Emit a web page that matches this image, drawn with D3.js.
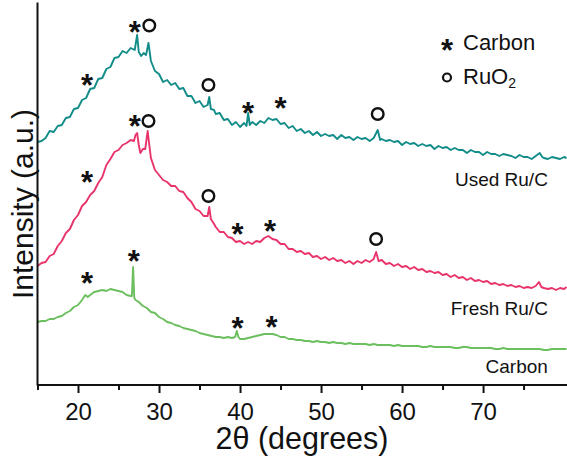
<!DOCTYPE html>
<html><head><meta charset="utf-8">
<script src="https://cdn.jsdelivr.net/npm/d3@7"></script>
<style>body{margin:0;background:#fff} svg{display:block;font-family:"Liberation Sans", Arial, sans-serif}</style>
</head><body><svg id="c" width="567" height="460"></svg>
<script>
// ---- data (2θ in degrees, intensity in arbitrary units) ----
const majorTicks = [20, 30, 40, 50, 60, 70];
const minorTicks = [15, 25, 35, 45, 55, 65, 75];
const seriesNames = ["Used Ru/C", "Fresh Ru/C", "Carbon"];
const seriesColors = ["#128c88", "#e8346a", "#6cbf5e"];

const usedRuC = [[15.0,243],[15.5,244],[16.0,247],[16.5,254],[17.0,253],[17.5,259],[18.0,260],[18.5,267],[19.0,268],[19.5,276],[20.0,277],[20.5,285],[21.0,287],[21.5,296],[22.0,297],[22.5,306],[23.0,307],[23.5,316],[24.0,318],[24.5,327],[25.0,328],[25.5,334],[26.0,332],[26.5,337],[27.0,335],[27.3,350],[27.5,333],[27.8,329],[28.1,332],[28.4,330],[28.7,342],[29.0,324],[29.5,314],[30.0,311],[30.5,303],[31.0,305],[31.5,300],[32.0,302],[32.5,296],[33.0,297],[33.5,289],[34.0,289],[34.5,282],[35.0,284],[35.5,278],[36.0,280],[36.2,288],[36.4,276],[36.8,275],[37.0,271],[37.5,272],[38.0,265],[38.5,266],[39.0,260],[39.5,263],[40.0,258],[40.5,262],[40.8,259],[41.0,272],[41.2,260],[41.5,263],[42.0,260],[42.5,264],[43.0,262],[43.5,267],[44.0,265],[44.5,266],[45.0,261],[45.5,262],[46.0,257],[46.5,259],[47.0,254],[47.5,256],[48.0,252],[48.5,254],[49.0,250],[49.5,253],[50.0,249],[50.5,251],[51.0,249],[51.5,250],[52.0,246],[52.5,250],[53.0,247],[53.5,248],[54.0,245],[54.5,248],[55.0,246],[55.5,247],[56.0,244],[56.5,247],[57.0,255],[57.3,245],[57.5,246],[58.0,244],[58.5,245],[59.0,243],[59.5,244],[60.0,240],[60.5,243],[61.0,241],[61.5,242],[62.0,239],[62.5,241],[63.0,239],[63.5,240],[64.0,236],[64.5,239],[65.0,237],[65.5,238],[66.0,235],[66.5,237],[67.0,235],[67.5,235],[68.0,232],[68.5,235],[69.0,233],[69.5,233],[70.0,230],[70.5,233],[71.0,231],[71.5,231],[72.0,229],[72.5,231],[73.0,230],[73.5,229],[74.0,227],[74.5,230],[75.0,228],[75.5,228],[76.0,226],[76.5,229],[77.0,232],[77.3,228],[77.5,227],[78.0,226],[78.5,228],[79.0,227],[79.5,226],[80.0,228],[80.3,227]];

const freshRuC = [[15.0,119],[15.5,122],[16.0,123],[16.5,129],[17.0,131],[17.5,139],[18.0,144],[18.5,152],[19.0,156],[19.5,165],[20.0,170],[20.5,179],[21.0,183],[21.5,190],[22.0,194],[22.5,202],[23.0,208],[23.5,220],[24.0,226],[24.5,233],[25.0,235],[25.5,240],[26.0,242],[26.5,245],[26.9,244],[27.1,250],[27.3,252],[27.5,240],[27.7,232],[28.0,236],[28.3,236],[28.6,254],[28.8,240],[29.0,227],[29.5,215],[30.0,210],[30.5,205],[31.0,203],[31.5,199],[32.0,199],[32.5,194],[33.0,193],[33.5,187],[34.0,183],[34.5,176],[35.0,174],[35.5,169],[36.0,169],[36.2,178],[36.4,166],[36.8,161],[37.0,158],[37.5,153],[38.0,153],[38.5,148],[39.0,147],[39.5,143],[40.0,144],[40.5,141],[41.0,143],[41.5,141],[42.0,144],[42.5,143],[43.0,147],[43.5,149],[44.0,146],[44.5,145],[45.0,141],[45.5,141],[46.0,136],[46.5,136],[47.0,133],[47.5,134],[48.0,131],[48.5,132],[49.0,128],[49.5,129],[50.0,126],[50.5,128],[51.0,125],[51.5,127],[52.0,124],[52.5,125],[53.0,122],[53.5,124],[54.0,121],[54.5,124],[55.0,122],[55.5,125],[56.0,123],[56.5,126],[56.8,133],[57.1,124],[57.5,125],[58.0,121],[58.5,122],[59.0,119],[59.5,121],[60.0,118],[60.5,119],[61.0,116],[61.5,118],[62.0,115],[62.5,116],[63.0,113],[63.5,114],[64.0,112],[64.5,113],[65.0,110],[65.5,111],[66.0,108],[66.5,110],[67.0,107],[67.5,108],[68.0,105],[68.5,107],[69.0,104],[69.5,105],[70.0,103],[70.5,104],[71.0,101],[71.5,102],[72.0,100],[72.5,101],[73.0,99],[73.5,100],[74.0,98],[74.5,99],[75.0,97],[75.5,98],[76.0,97],[76.5,99],[76.9,103],[77.2,98],[77.5,97],[78.0,96],[78.5,97],[79.0,95],[79.5,97],[80.0,96],[80.3,98]];

const carbon = [[15.0,63],[15.5,64],[16.0,64],[16.5,66],[17.0,66],[17.5,68],[18.0,69],[18.5,72],[19.0,74],[19.5,78],[20.0,80],[20.5,85],[20.9,90],[21.2,88],[21.5,90],[22.0,93],[22.5,94],[23.0,95],[23.5,94],[24.0,96],[24.5,95],[25.0,94],[25.5,93],[26.0,90],[26.5,89],[26.65,89],[26.8,118],[26.95,87],[27.1,85],[27.5,83],[28.0,79],[28.5,77],[29.0,73],[29.5,72],[30.0,68],[30.5,66],[31.0,63],[31.5,62],[32.0,60],[32.5,59],[33.0,57],[33.5,56],[34.0,55],[34.5,54],[35.0,52],[35.5,51],[36.0,50],[36.5,49],[37.0,48],[37.5,48],[38.0,47],[38.5,48],[39.0,47],[39.4,48],[39.6,54],[39.8,48],[40.0,46],[40.5,46],[41.0,47],[41.5,48],[42.0,49],[42.5,50],[43.0,51],[43.5,51],[44.0,51],[44.5,50],[45.0,48],[45.5,48],[46.0,46],[46.5,46],[47.0,45],[47.5,45],[48.0,44],[48.5,44],[49.0,43],[49.5,44],[50.0,43],[50.5,43],[51.0,42],[51.5,43],[52.0,42],[52.5,42],[53.0,41],[53.5,42],[54.0,41],[54.5,41],[55.0,41],[55.5,41],[56.0,40],[56.5,41],[57.0,40],[57.5,40],[58.0,40],[58.5,40],[59.0,39],[59.5,40],[60.0,39],[60.5,39],[61.0,39],[61.5,39],[62.0,39],[62.5,38],[63.0,38],[63.5,39],[64.0,38],[64.5,38],[65.0,38],[65.5,38],[66.0,38],[66.5,37],[67.0,37],[67.5,38],[68.0,38],[68.5,37],[69.0,37],[69.5,37],[70.0,37],[70.5,37],[71.0,37],[71.5,36],[72.0,36],[72.5,37],[73.0,36],[73.5,36],[74.0,36],[74.5,36],[75.0,36],[75.5,36],[76.0,36],[76.5,36],[77.0,36],[77.5,35],[78.0,35],[78.5,36],[79.0,36],[79.5,36],[80.0,36],[80.3,36]];

// peak markers [2θ, intensity]
const carbonPeaks = [[21.1,307],[27.0,360],[41.0,279],[45.0,284],[21.1,210],[27.0,266],[39.7,158],[43.7,161],[21.1,109],[26.9,131],[39.7,64],[43.9,65]];
const ruo2Peaks = [[28.8,359.5],[36.1,300],[57.0,271],[28.7,264],[36.1,189],[56.8,146]];
// label anchor positions [2θ, intensity]
const labelAnchors = [[78.0,199],[78.0,70],[78.0,12]];

// ---- drawing ----
const svg = d3.select("#c");
const x = d3.scaleLinear().domain([15, 80.3]).range([37.5, 566.5]);
const y = d3.scaleLinear().domain([0, 383]).range([385, 2]);
const ink = "#111";

const lines = [usedRuC, freshRuC, carbon];
const lineGen = d3.line().x(d => x(d[0])).y(d => y(d[1]));
svg.selectAll("path.series").data(lines).join("path")
  .attr("class", "series")
  .attr("fill", "none")
  .attr("stroke", (d, i) => seriesColors[i])
  .attr("stroke-width", 1.9)
  .attr("stroke-linejoin", "round")
  .attr("d", lineGen);

// x axis
const gx = svg.append("g").attr("transform", `translate(0,${y(0)})`);
gx.call(d3.axisBottom(x).tickValues(majorTicks).tickSize(8).tickSizeOuter(0).tickFormat(d3.format("d")));
gx.select(".domain").remove();
gx.selectAll(".tick line").attr("stroke", ink).attr("stroke-width", 2);
gx.selectAll(".tick text").attr("y", 35).attr("dy", 0).attr("font-size", 24)
  .attr("font-family", "Liberation Sans, Arial, sans-serif").attr("fill", ink);
const gxm = svg.append("g").attr("transform", `translate(0,${y(0)})`);
gxm.call(d3.axisBottom(x).tickValues(minorTicks).tickSize(5).tickSizeOuter(0).tickFormat(""));
gxm.select(".domain").remove();
gxm.selectAll(".tick line").attr("stroke", ink).attr("stroke-width", 2);
svg.append("line").attr("x1", 37).attr("x2", 567).attr("y1", y(0)).attr("y2", y(0))
  .attr("stroke", ink).attr("stroke-width", 2);

// y axis (no ticks)
const gy = svg.append("g").attr("transform", `translate(37,0)`);
gy.call(d3.axisLeft(y).tickValues([]).tickSizeOuter(0));
gy.select(".domain").attr("stroke", ink).attr("stroke-width", 2);

// axis titles
svg.append("text").attr("x", 302).attr("y", 449).attr("text-anchor", "middle")
  .attr("font-size", 30.5).attr("fill", ink).text("2θ (degrees)");
svg.append("text").attr("transform", "translate(33,204) rotate(-90)").attr("text-anchor", "middle")
  .attr("font-size", 30).attr("fill", ink).text("Intensity (a.u.)");

// peak markers
svg.selectAll("text.star").data(carbonPeaks).join("text")
  .attr("class", "star").attr("text-anchor", "middle")
  .attr("x", d => x(d[0])).attr("y", d => y(d[1]) + 18)
  .attr("font-size", 31).attr("font-weight", "bold").attr("fill", ink).text("*");
svg.selectAll("circle.ruo2").data(ruo2Peaks).join("circle")
  .attr("class", "ruo2").attr("cx", d => x(d[0])).attr("cy", d => y(d[1]))
  .attr("r", 5.8).attr("fill", "none").attr("stroke", ink).attr("stroke-width", 2.4);

// series labels
svg.selectAll("text.lab").data(seriesNames).join("text")
  .attr("class", "lab").attr("text-anchor", "end")
  .attr("x", (d, i) => x(labelAnchors[i][0])).attr("y", (d, i) => y(labelAnchors[i][1]))
  .attr("font-size", 19).attr("fill", ink).text(d => d);

// legend
const lg = svg.append("g");
lg.append("text").attr("x", 447).attr("y", 61).attr("text-anchor", "middle")
  .attr("font-size", 31).attr("font-weight", "bold").attr("fill", ink).text("*");
lg.append("text").attr("x", 463).attr("y", 49.5).attr("font-size", 22).attr("fill", ink).text("Carbon");
lg.append("circle").attr("cx", 447).attr("cy", 77.5).attr("r", 4).attr("fill", "none")
  .attr("stroke", ink).attr("stroke-width", 2.2);
const rt = lg.append("text").attr("x", 463).attr("y", 83.5).attr("font-size", 22).attr("fill", ink);
rt.append("tspan").text("RuO");
rt.append("tspan").attr("font-size", 14).attr("dy", 4).text("2");
</script></body></html>
